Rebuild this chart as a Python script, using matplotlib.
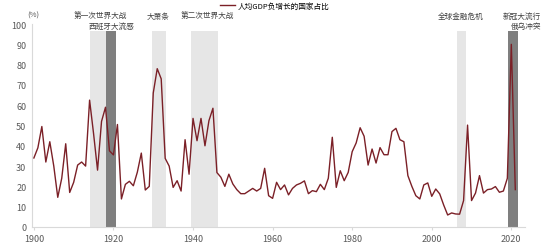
import matplotlib
matplotlib.use('Agg')
import matplotlib.pyplot as plt
import numpy as np

plt.rcParams['font.family'] = ['Noto Sans CJK SC', 'DejaVu Sans']

years = list(range(1900, 2022))
share = [
    34, 39, 49.5, 32, 42, 30, 14.6, 24, 41, 17,          # 1900s
    22, 30.5, 32, 30, 62.5, 46, 28, 52, 59, 37.5,        # 1910s
    35.5, 50.5, 13.8, 21, 22.5, 20.3, 27, 36.4, 18.2, 20,  # 1920s
    66, 78, 73, 33.8, 30, 19.5, 22.8, 17.7, 43, 26,      # 1930s
    53.5, 42.5, 53.5, 40, 52.4, 58.5, 26.8, 24.5, 20, 26,  # 1940s
    21.2, 18.4, 16.4, 16.4, 17.7, 19, 17.7, 19, 28.9, 15.4,  # 1950s
    14.1, 22, 18.4, 20.7, 15.8, 19, 20.7, 21.5, 22.7, 16.4,  # 1960s
    17.9, 17.4, 21, 18.4, 24, 44.2, 19.5, 27.7, 22.8, 26.9,  # 1970s
    37.1, 41.4, 48.9, 44.7, 30.5, 38.4, 31.5, 39.1, 35.6, 35.6,  # 1980s
    47, 48.6, 43, 42, 25.3, 20, 15.4, 13.8, 20.7, 21.7,  # 1990s
    15.1, 18.7, 16.3, 10.8, 5.9, 6.9, 6.4, 6.3, 13, 50.2,  # 2000s
    13, 16.7, 25.3, 16.7, 18.4, 18.7, 19.9, 17.1, 17.7, 24,  # 2010s
    90, 18.4,
]

# shaded periods: (start, end, colour)
periods_start = [1914.0, 1918.0, 1929.6, 1939.5, 2006.3, 2019.1]
periods_end = [1918.0, 1920.75, 1933.2, 1946.2, 2008.7, 2021.8]
periods_dark = [False, True, False, False, False, True]

labels = ['第一次世界大战', '西班牙大流感', '大萧条', '第二次世界大战', '全球金融危机', '新冠大流行', '俄乌冲突']
label_x = [1916.6, 1919.4, 1931.2, 1943.5, 2007.2, 2027.5, 2027.5]
label_y = [104, 99, 104, 104, 104, 104, 99]
label_ha = ['center', 'center', 'center', 'center', 'center', 'right', 'right']

line_color = '#7B2027'
light_gray = '#E6E6E6'
dark_gray = '#7F7F7F'
axis_gray = '#D9D9D9'
text_gray = '#595959'

fig = plt.figure(figsize=(5.5, 2.53), dpi=100)
ax = fig.add_axes([0.058, 0.099, 0.897, 0.802])

for s, e, d in zip(periods_start, periods_end, periods_dark):
    ax.axvspan(s, e, ymin=0, ymax=0.965, color=dark_gray if d else light_gray,
               lw=0, zorder=1)

ax.plot(years, share, color=line_color, lw=1.0, zorder=3,
        label='人均GDP负增长的国家占比')

for t, x, y, ha in zip(labels, label_x, label_y, label_ha):
    ax.text(x, y, t, ha=ha, va='center', fontsize=5.5, color='#404040',
            clip_on=False)

ax.set_xlim(1899.5, 2023.5)
ax.set_ylim(0, 100)
ax.set_xticks(np.arange(1900, 2021, 20))
ax.set_yticks(np.arange(0, 101, 10))

for side in ['top', 'right']:
    ax.spines[side].set_visible(False)
for side in ['left', 'bottom']:
    ax.spines[side].set_color(axis_gray)
    ax.spines[side].set_linewidth(0.8)

ax.tick_params(axis='both', labelsize=6.5, colors=text_gray)
ax.tick_params(axis='x', length=2, color=axis_gray, pad=3)
ax.tick_params(axis='y', length=0, pad=4)

fig.text(0.06, 0.94, '(%)', fontsize=5.5, color=text_gray, ha='center', va='center')

ax.legend(loc='center left', bbox_to_anchor=(0.4, 0.972), bbox_transform=fig.transFigure,
          frameon=False, fontsize=5.5, handlelength=2.0, handletextpad=0.3,
          borderaxespad=0, borderpad=0)

fig.savefig('out.png', dpi=100)
